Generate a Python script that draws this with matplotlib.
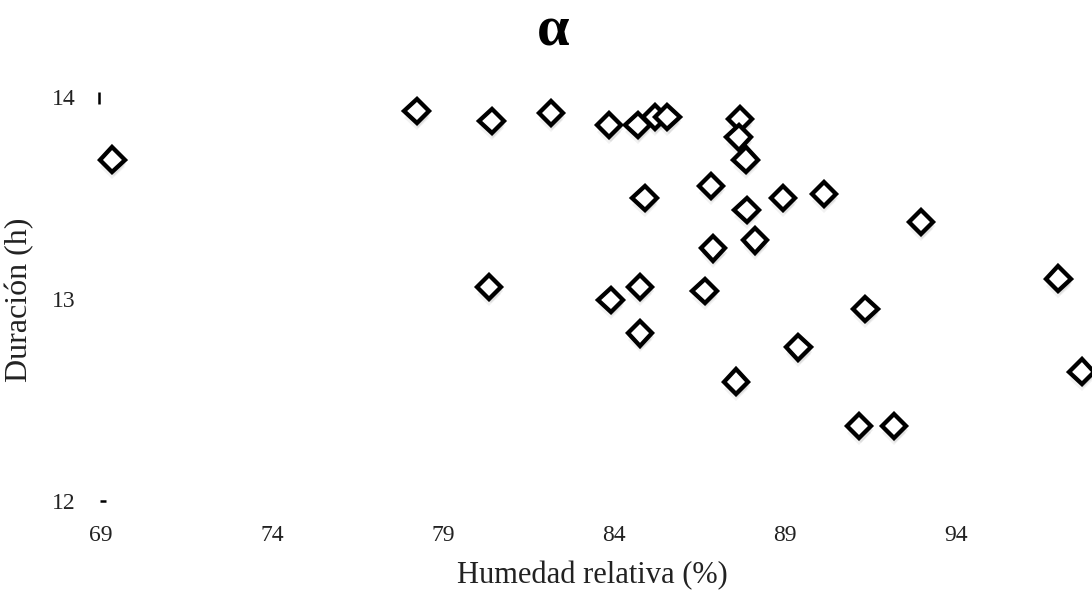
import matplotlib
matplotlib.use("Agg")
import matplotlib.pyplot as plt
import matplotlib.patheffects as pe

plt.rcParams['font.family'] = ['Liberation Serif', 'DejaVu Serif']

# humedad relativa (%) y duración (h) de cada observación
humedad = [69.33, 78.23, 80.42, 82.16, 83.86, 84.69, 85.20, 85.56, 87.68, 87.65,
           87.85, 84.90, 86.84, 87.88, 88.95, 90.14, 86.90, 88.12, 92.98, 80.35,
           83.90, 84.76, 86.65, 91.35, 97.00, 84.76, 89.39, 87.57, 97.68, 91.17,
           92.19]
duracion = [13.69, 13.93, 13.88, 13.92, 13.86, 13.86, 13.90, 13.90, 13.89, 13.80,
            13.69, 13.50, 13.56, 13.44, 13.50, 13.52, 13.25, 13.29, 13.38, 13.06,
            12.995, 13.06, 13.04, 12.95, 13.10, 12.83, 12.76, 12.59, 12.64, 12.37,
            12.37]

xticks = [69, 74, 79, 84, 89, 94]
yticks = [12, 13, 14]

fig = plt.figure(figsize=(10.92, 6.03), dpi=100)
ax = fig.add_axes([0.087, 0.1542, 0.913, 0.7048])

sombra = [pe.SimplePatchShadow(offset=(0, -2), shadow_rgbFace='black', alpha=0.10),
          pe.SimplePatchShadow(offset=(1, -3), shadow_rgbFace='black', alpha=0.08),
          pe.SimplePatchShadow(offset=(0, -5), shadow_rgbFace='black', alpha=0.05),
          pe.Normal()]

ax.plot(humedad, duracion, linestyle='none', marker='D', markersize=12.5,
        markerfacecolor='white', markeredgecolor='black', markeredgewidth=3.1,
        path_effects=sombra, zorder=3, clip_on=False)

# marcas sueltas del eje vertical
ax.plot([68.95], [13.995], marker='|', markersize=8, markeredgewidth=1.8,
        color='black', clip_on=False)
ax.plot([69.05], [12.0], marker='_', markersize=5, markeredgewidth=1.8,
        color='black', clip_on=False)

ax.set_xlim(68.825, 97.98)
ax.set_ylim(11.955, 14.059)
ax.set_xticks(xticks)
ax.set_xticklabels([str(v) for v in xticks])
ax.set_yticks(yticks)
ax.set_yticklabels([str(v) for v in yticks])
ax.tick_params(axis='x', length=0, pad=11, labelsize=17, labelcolor='#222222')
ax.tick_params(axis='y', length=0, pad=14, labelsize=17, labelcolor='#222222')
for s in ax.spines.values():
    s.set_visible(False)

fig.text(592 / 1092, 1 - 576 / 603, 'Humedad relativa (%)', fontsize=22,
         color='#222222', ha='center', va='center')
fig.text(20 / 1092, 1 - 300 / 603, 'Duración (h)', fontsize=23,
         color='#222222', rotation=90, ha='center', va='center')
fig.text(553 / 1092, 1 - 32 / 603, 'α', fontsize=42, fontweight='bold',
         ha='center', va='center')

fig.savefig('out.png', dpi=100)
